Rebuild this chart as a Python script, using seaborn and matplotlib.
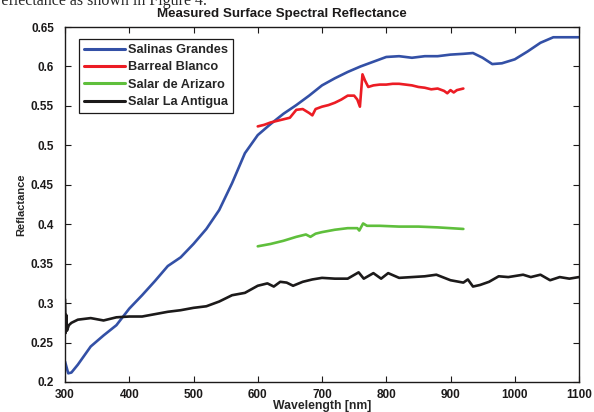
import matplotlib

matplotlib.use("Agg")

import matplotlib.pyplot as plt
import pandas as pd
import seaborn as sns

# Salinas Grandes (blue)
salinas_nm = [300, 305, 310, 320, 340, 360, 380, 400, 420, 440, 460, 480, 500, 520, 540,
              560, 580, 600, 620, 640, 660, 680, 700, 720, 740, 760, 780, 800, 820, 840,
              860, 880, 900, 920, 935, 950, 965, 980, 1000, 1020, 1040, 1060, 1080, 1100]
salinas_refl = [0.226, 0.211, 0.212, 0.222, 0.245, 0.259, 0.272, 0.293, 0.310, 0.328, 0.347,
                0.358, 0.375, 0.394, 0.418, 0.452, 0.490, 0.513, 0.527, 0.540, 0.551, 0.563,
                0.576, 0.585, 0.593, 0.600, 0.606, 0.612, 0.613, 0.611, 0.613, 0.613, 0.615,
                0.616, 0.617, 0.611, 0.603, 0.604, 0.609, 0.619, 0.630, 0.637, 0.637, 0.637]

# Barreal Blanco (red)
barreal_nm = [600, 610, 620, 630, 640, 650, 660, 670, 680, 685, 690, 700, 710, 720, 730, 740,
              750, 755, 759, 763, 767, 772, 780, 790, 800, 810, 820, 830, 840, 850, 860, 870,
              880, 890, 895, 900, 905, 910, 920]
barreal_refl = [0.524, 0.526, 0.529, 0.531, 0.533, 0.535, 0.545, 0.546, 0.541, 0.538, 0.546,
                0.549, 0.551, 0.554, 0.558, 0.563, 0.563, 0.558, 0.549, 0.590, 0.582, 0.574,
                0.576, 0.577, 0.577, 0.578, 0.578, 0.577, 0.576, 0.574, 0.573, 0.571, 0.572,
                0.569, 0.566, 0.570, 0.567, 0.570, 0.572]

# Salar de Arizaro (green)
arizaro_nm = [600, 620, 640, 660, 675, 682, 690, 700, 720, 740, 755, 758, 764, 770, 790, 820,
              850, 880, 900, 920]
arizaro_refl = [0.372, 0.375, 0.379, 0.384, 0.387, 0.384, 0.388, 0.390, 0.393, 0.395, 0.395,
                0.392, 0.401, 0.398, 0.398, 0.397, 0.397, 0.396, 0.395, 0.394]

# Salar La Antigua (black)
antigua_nm = [300, 301, 302, 303, 306, 310, 320, 340, 360, 380, 400, 420, 440, 460, 480, 500,
              520, 540, 560, 580, 600, 615, 625, 635, 645, 655, 670, 685, 700, 720, 740, 757,
              765, 780, 792, 803, 820, 840, 860, 878, 900, 920, 927, 935, 946, 960, 975, 990,
              1013, 1025, 1040, 1055, 1070, 1085, 1100]
antigua_refl = [0.305, 0.262, 0.285, 0.265, 0.272, 0.275, 0.279, 0.281, 0.278, 0.282, 0.283,
                0.283, 0.286, 0.289, 0.291, 0.294, 0.296, 0.302, 0.310, 0.313, 0.322, 0.325,
                0.321, 0.327, 0.326, 0.322, 0.327, 0.330, 0.332, 0.331, 0.331, 0.339, 0.331,
                0.338, 0.331, 0.338, 0.332, 0.333, 0.334, 0.336, 0.329, 0.326, 0.330, 0.321,
                0.323, 0.327, 0.334, 0.333, 0.336, 0.333, 0.336, 0.329, 0.333, 0.331, 0.333]

site_names = ["Salinas Grandes", "Barreal Blanco", "Salar de Arizaro", "Salar La Antigua"]
site_colors = ["#3350a6", "#ec1c24", "#5fbf3c", "#1c1a1a"]

x_ticks = [300, 400, 500, 600, 700, 800, 900, 1000, 1100]
y_ticks = [0.2, 0.25, 0.3, 0.35, 0.4, 0.45, 0.5, 0.55, 0.6, 0.65]
y_tick_labels = ["0.2", "0.25", "0.3", "0.35", "0.4", "0.45", "0.5", "0.55", "0.6", "0.65"]


def build_frame() -> pd.DataFrame:
    parts = []
    series = [(salinas_nm, salinas_refl), (barreal_nm, barreal_refl),
              (arizaro_nm, arizaro_refl), (antigua_nm, antigua_refl)]
    for name, (wl, refl) in zip(site_names, series):
        parts.append(pd.DataFrame({"wavelength": wl, "reflectance": refl, "site": name}))
    return pd.concat(parts, ignore_index=True)


def main() -> None:
    sns.set_style("white")
    plt.rcParams["font.family"] = ["Liberation Sans", "DejaVu Sans"]

    data = build_frame()
    figure = plt.figure(figsize=(5.94, 4.12), dpi=100)
    axis = figure.add_axes([65 / 594, 1 - 382 / 412, 514 / 594, 355 / 412])

    sns.lineplot(data=data, x="wavelength", y="reflectance", hue="site",
                 hue_order=site_names, palette=site_colors, estimator=None,
                 sort=False, linewidth=1.9, ax=axis)

    axis.set_xlim(300, 1100)
    axis.set_ylim(0.2, 0.65)
    axis.set_xticks(x_ticks)
    axis.set_xticklabels([str(t) for t in x_ticks], fontweight="bold", fontsize=8.5)
    axis.set_yticks(y_ticks)
    axis.set_yticklabels(y_tick_labels, fontweight="bold", fontsize=8.5)
    axis.tick_params(direction="in", length=4, width=0.8, top=True, right=True,
                     bottom=True, left=True, colors="#1c1a1a", labelcolor="#1c1a1a")
    axis.tick_params(axis="y", pad=8)
    axis.tick_params(axis="x", pad=5)
    for spine in axis.spines.values():
        spine.set_color("#1c1a1a")
        spine.set_linewidth(1.0)

    axis.set_xlabel("Wavelength [nm]", fontweight="bold", fontsize=8.8, labelpad=-0.5)
    axis.set_ylabel("Reflactance", fontweight="bold", fontsize=8, labelpad=3)

    legend = axis.legend(loc="upper left", bbox_to_anchor=(14 / 514, 1 - 12 / 355),
                         frameon=True, fancybox=False, framealpha=1, edgecolor="#1c1a1a",
                         handlelength=3.2, handletextpad=0.25, labelspacing=0.42,
                         borderpad=0.4, borderaxespad=0, prop={"weight": "bold", "size": 9.2})
    legend.get_frame().set_linewidth(0.9)
    for handle in legend.get_lines():
        handle.set_linewidth(2.2)

    figure.text(282 / 594, 1 - 14 / 412, "Measured Surface Spectral Reflectance",
                ha="center", va="center", fontweight="bold", fontsize=9.6, color="#1c1a1a")
    figure.text(-4 / 594, 1 - 5 / 412, "reflectance as shown in Figure 4.",
                ha="left", va="baseline", fontsize=11.5, family=["Liberation Serif", "DejaVu Serif"])

    figure.savefig("out.png", dpi=100)
    plt.close(figure)


if __name__ == "__main__":
    main()
